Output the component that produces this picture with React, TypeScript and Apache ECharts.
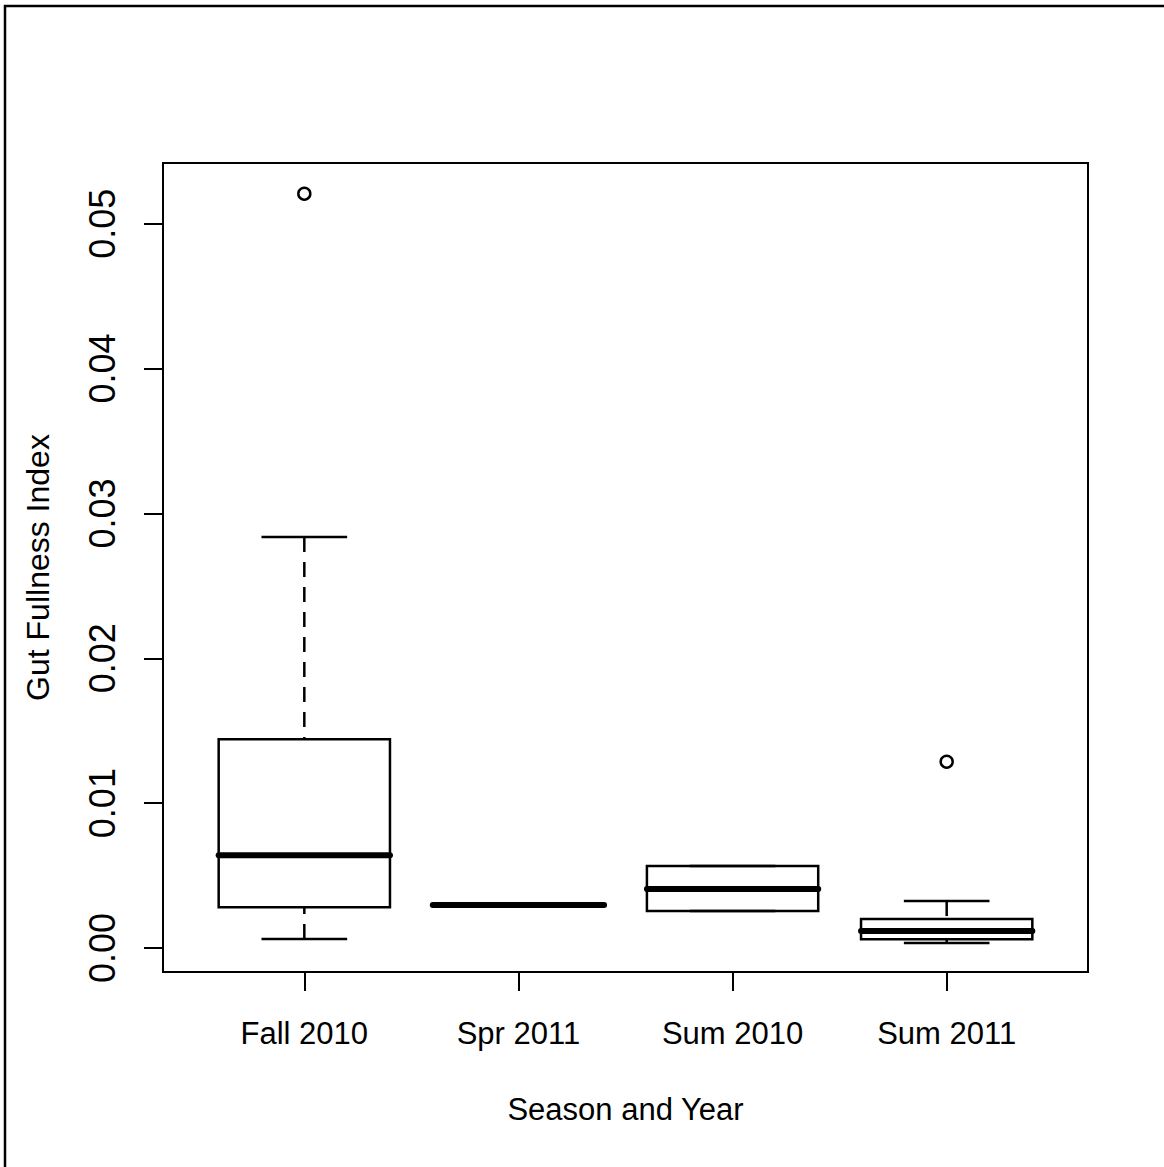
import React, { useEffect, useRef } from "react";
import * as echarts from "echarts";

const categories = ["Fall 2010", "Spr 2011", "Sum 2010", "Sum 2011"];
const lowerWhisker = [0.00062, 0.00297, 0.00255, 0.00035];
const q1 = [0.00281, 0.00297, 0.00255, 0.0006];
const median = [0.0064, 0.00297, 0.00407, 0.00117];
const q3 = [0.01441, 0.00297, 0.00566, 0.002];
const upperWhisker = [0.02837, 0.00297, 0.00566, 0.00324];
const outlierGroup = [1, 4];
const outlierValue = [0.05207, 0.01286];
const yTicks = [0, 0.01, 0.02, 0.03, 0.04, 0.05];
const xPositions = [1, 2, 3, 4];

const FONT = "'Liberation Sans', Arial, sans-serif";

export default function App() {
  const ref = useRef<HTMLDivElement>(null);
  useEffect(() => {
    if (!ref.current) return;
    const chart = echarts.init(ref.current, null, { renderer: "svg" });
    const boxData = xPositions.map((x, i) => [x, lowerWhisker[i], q1[i], median[i], q3[i], upperWhisker[i]]);
    const outData = outlierGroup.map((g, i) => [g, outlierValue[i]]);
    const option: any = {
      animation: false,
      backgroundColor: "#fff",
      grid: {
        left: 163,
        top: 163,
        right: 76,
        bottom: 195,
        show: true,
        borderColor: "#000",
        borderWidth: 2,
        backgroundColor: "transparent",
      },
      xAxis: {
        type: "value",
        min: 0.34,
        max: 4.66,
        name: "Season and Year",
        nameLocation: "middle",
        nameGap: 122,
        nameTextStyle: { fontFamily: FONT, fontSize: 31, color: "#000", lineHeight: 31 },
        axisLine: { show: true, onZero: false, lineStyle: { color: "#000", width: 2 } },
        axisTick: { show: true, length: 19, customValues: xPositions, lineStyle: { color: "#000", width: 2 } },
        axisLabel: {
          customValues: xPositions,
          margin: 46,
          fontFamily: FONT,
          fontSize: 31,
          lineHeight: 31,
          color: "#000",
          formatter: (v: number) => categories[Math.round(v) - 1] ?? "",
        },
        splitLine: { show: false },
      },
      yAxis: {
        type: "value",
        min: -0.001657,
        max: 0.05419,
        name: "Gut Fullness Index",
        nameLocation: "middle",
        nameRotate: 90,
        nameGap: 109,
        nameTextStyle: { fontFamily: FONT, fontSize: 32, color: "#000", lineHeight: 32 },
        axisLine: { show: true, onZero: false, lineStyle: { color: "#000", width: 2 } },
        axisTick: { show: true, length: 19, customValues: yTicks, lineStyle: { color: "#000", width: 2 } },
        axisLabel: {
          customValues: yTicks,
          rotate: 90,
          margin: 43,
          fontFamily: FONT,
          fontSize: 36,
          lineHeight: 36,
          color: "#000",
          formatter: (v: number) => v.toFixed(2),
        },
        splitLine: { show: false },
      },
      graphic: [
        {
          type: "rect",
          shape: { x: 5, y: 6, width: 1400, height: 1400 },
          style: { fill: "none", stroke: "#000", lineWidth: 2.5 },
          silent: true,
          z: -1,
        },
      ],
      series: [
        {
          type: "custom",
          data: boxData,
          renderItem: (params: any, api: any) => {
            const x = api.value(0);
            const lo = api.value(1);
            const b1 = api.value(2);
            const md = api.value(3);
            const b3 = api.value(4);
            const hi = api.value(5);
            const pL = api.coord([x - 0.4, b3]);
            const pR = api.coord([x + 0.4, b1]);
            const cL = api.coord([x - 0.2, lo]);
            const cR = api.coord([x + 0.2, lo]);
            const hL = api.coord([x - 0.2, hi]);
            const hR = api.coord([x + 0.2, hi]);
            const pQ1 = api.coord([x, b1]);
            const pQ3 = api.coord([x, b3]);
            const pLo = api.coord([x, lo]);
            const pHi = api.coord([x, hi]);
            const mL = api.coord([x - 0.4, md]);
            const mR = api.coord([x + 0.4, md]);
            const black = "#000";
            const children: any[] = [];
            if (lo !== b1) {
              children.push({
                type: "line",
                shape: { x1: pLo[0], y1: pLo[1], x2: pQ1[0], y2: pQ1[1] },
                style: { stroke: black, lineWidth: 2.5, lineDash: [15, 10] },
              });
            }
            if (hi !== b3) {
              children.push({
                type: "line",
                shape: { x1: pHi[0], y1: pHi[1], x2: pQ3[0], y2: pQ3[1] },
                style: { stroke: black, lineWidth: 2.5, lineDash: [15, 10] },
              });
            }
            children.push({
              type: "line",
              shape: { x1: cL[0], y1: cL[1], x2: cR[0], y2: cR[1] },
              style: { stroke: black, lineWidth: 2.5 },
            });
            children.push({
              type: "line",
              shape: { x1: hL[0], y1: hL[1], x2: hR[0], y2: hR[1] },
              style: { stroke: black, lineWidth: 2.5 },
            });
            children.push({
              type: "rect",
              shape: { x: pL[0], y: pL[1], width: pR[0] - pL[0], height: Math.max(pR[1] - pL[1], 0.01) },
              style: { fill: "none", stroke: black, lineWidth: 2.5 },
            });
            children.push({
              type: "line",
              shape: { x1: mL[0], y1: mL[1], x2: mR[0], y2: mR[1] },
              style: { stroke: black, lineWidth: 6, lineCap: "round" },
            });
            return { type: "group", children };
          },
          z: 2,
        },
        {
          type: "scatter",
          data: outData,
          symbol: "circle",
          symbolSize: 12,
          itemStyle: { color: "#fff", borderColor: "#000", borderWidth: 2.5, opacity: 1 },
          z: 3,
        },
      ],
    };
    chart.setOption(option);
    return () => chart.dispose();
  }, []);
  return (
    <div
      ref={ref}
      style={{ position: "fixed", left: 0, top: 0, width: 1164, height: 1167, background: "#fff" }}
    />
  );
}
